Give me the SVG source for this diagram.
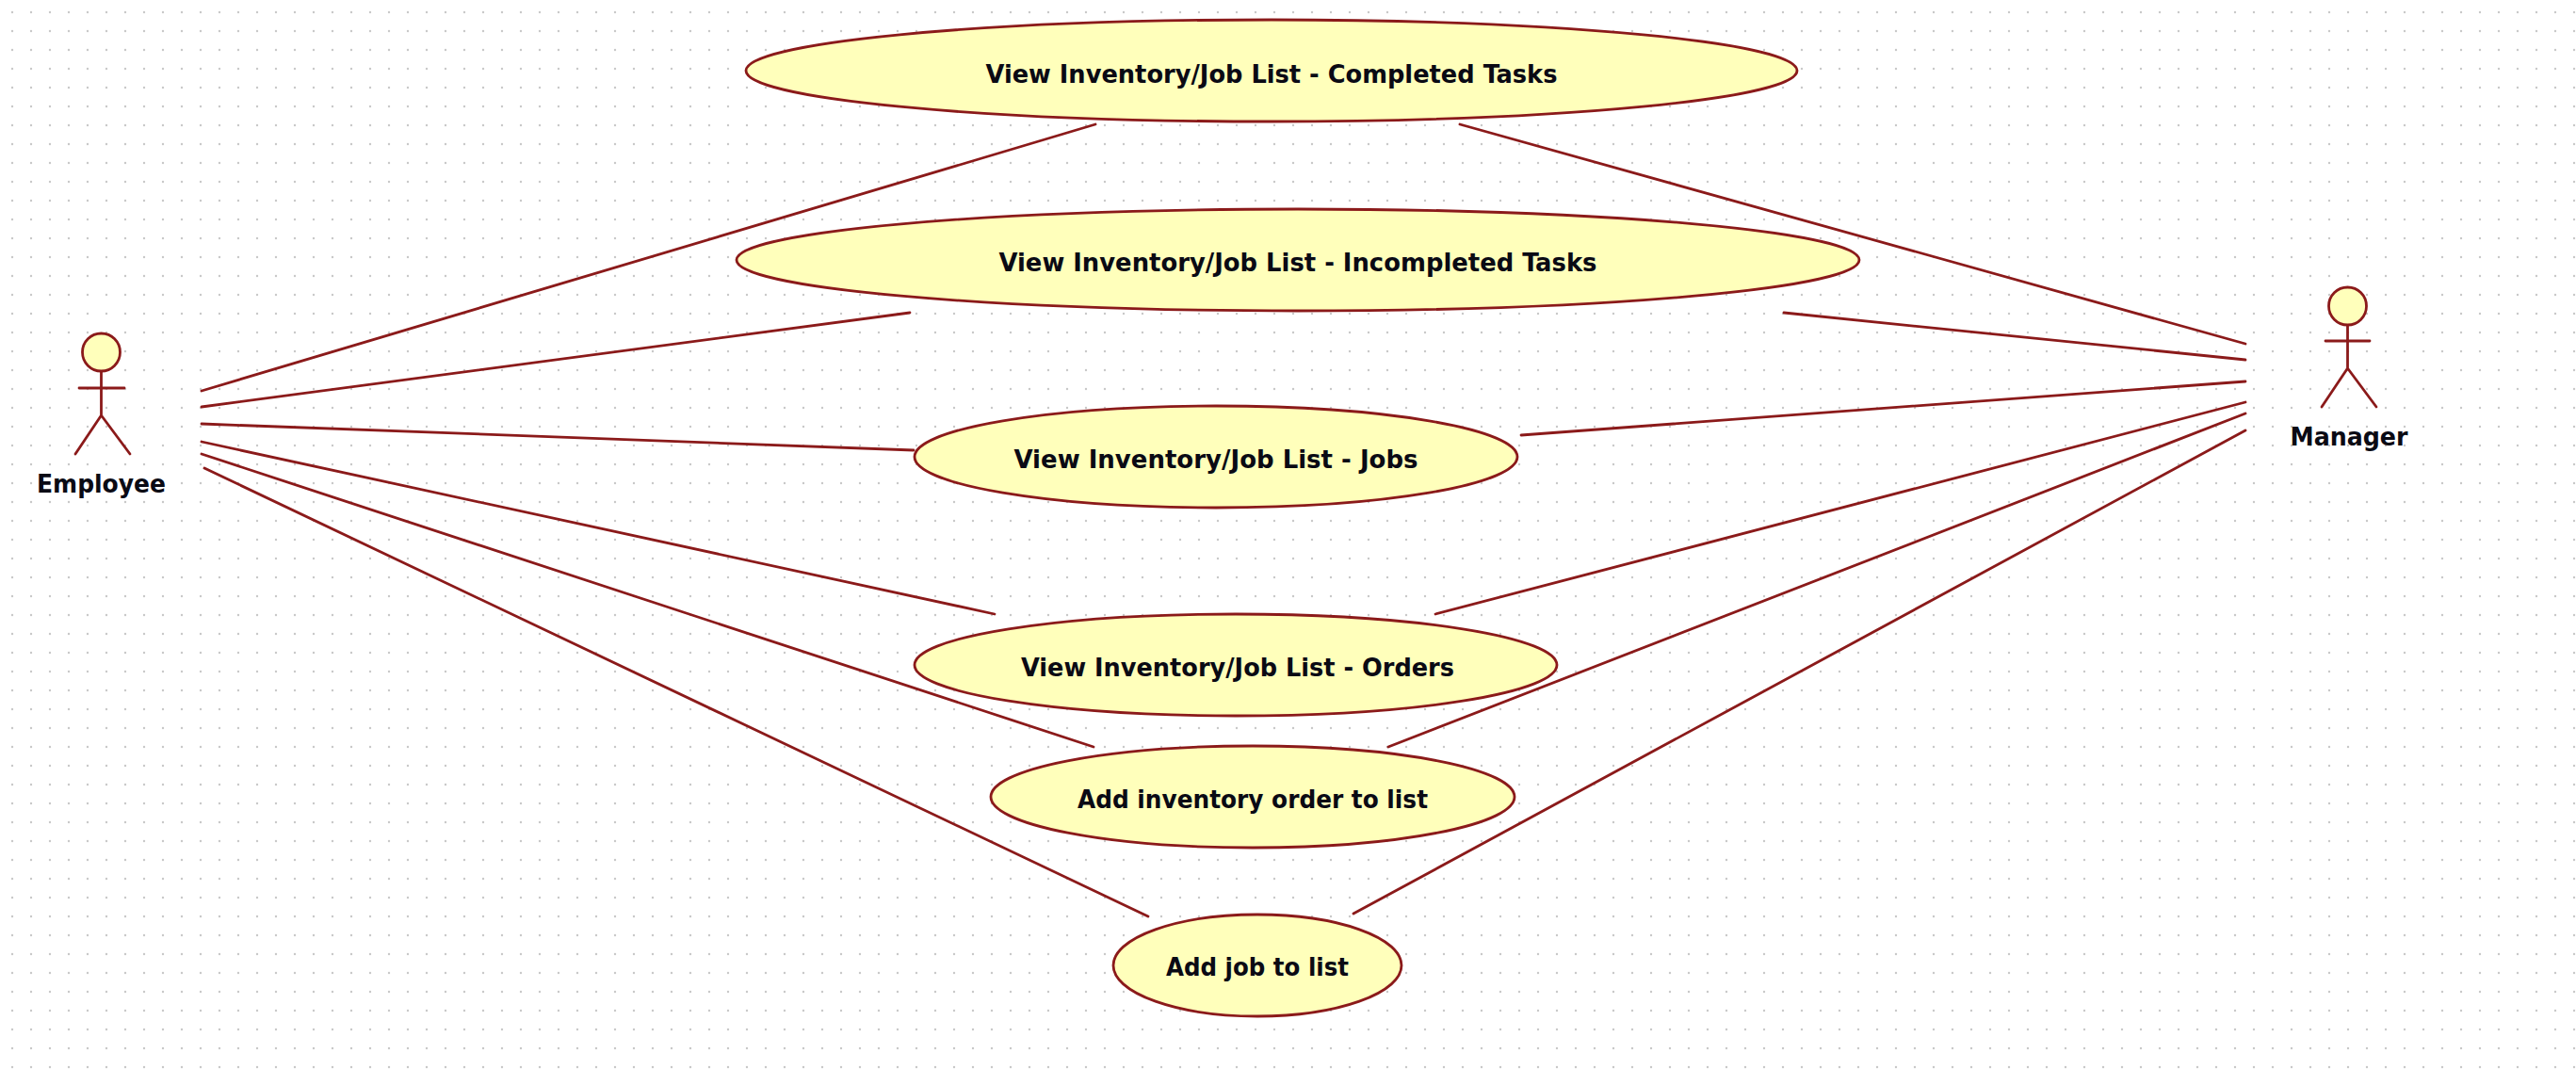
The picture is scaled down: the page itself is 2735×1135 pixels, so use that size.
<svg xmlns="http://www.w3.org/2000/svg" width="2735" height="1135" viewBox="0 0 2735 1135">
<style>
.s{stroke:#8b1a1a;stroke-width:2.8;fill:none;stroke-linecap:round}
.n{fill:#ffffbb;stroke:#8b1a1a;stroke-width:2.8}
text{font-family:"DejaVu Sans Condensed","DejaVu Sans",sans-serif;font-weight:700;font-size:26px;fill:#0a0a14}
</style>
<defs><pattern id="g" width="20" height="20" patternUnits="userSpaceOnUse" x="3" y="3"><circle cx="10" cy="10" r="1.2" fill="#c8c8c8"/></pattern></defs>
<rect width="2735" height="1135" fill="#fff"/>
<rect width="2735" height="1135" fill="url(#g)"/>
<g id="connectors" class="s">
<path d="M214 415L1163 132M214 432L966 332M214 450L970 478M214 469L1056 652M214 482L1161 793M217 497L1219 973"/>
<path d="M1550 132L2384 365M1894 332L2384 382M1615 462L2384 405M1524 652L2384 427M1474 793L2384 439M1437 970L2384 457"/>
</g>
<g id="uc1"><ellipse class="n" cx="1350" cy="75" rx="558" ry="54"/><text x="1350" y="88" text-anchor="middle" textLength="607" lengthAdjust="spacingAndGlyphs">View Inventory/Job List - Completed Tasks</text></g>
<g id="uc2"><ellipse class="n" cx="1378" cy="276" rx="596" ry="54"/><text x="1378" y="288" text-anchor="middle" textLength="635" lengthAdjust="spacingAndGlyphs">View Inventory/Job List - Incompleted Tasks</text></g>
<g id="uc3"><ellipse class="n" cx="1291" cy="485" rx="320" ry="54"/><text x="1291" y="497" text-anchor="middle" textLength="429" lengthAdjust="spacingAndGlyphs">View Inventory/Job List - Jobs</text></g>
<g id="uc4"><ellipse class="n" cx="1312" cy="706" rx="341" ry="54"/><text x="1314" y="718" text-anchor="middle" textLength="460" lengthAdjust="spacingAndGlyphs">View Inventory/Job List - Orders</text></g>
<g id="uc5"><ellipse class="n" cx="1330" cy="846" rx="278" ry="54"/><text x="1330" y="858" text-anchor="middle" textLength="372" lengthAdjust="spacingAndGlyphs">Add inventory order to list</text></g>
<g id="uc6"><ellipse class="n" cx="1335" cy="1025" rx="153" ry="54"/><text x="1335" y="1036" text-anchor="middle" textLength="194" lengthAdjust="spacingAndGlyphs">Add job to list</text></g>
<g id="employee"><path class="s" d="M107.500 395V441M84 412H132M107.500 441L80 482M107.500 441L138 482"/><circle class="n" cx="107.500" cy="374" r="20"/><text x="107.500" y="523" text-anchor="middle" textLength="137" lengthAdjust="spacingAndGlyphs">Employee</text></g>
<g id="manager"><path class="s" d="M2492.500 345V391M2469 362H2516M2492.500 391L2465 432M2492.500 391L2523 432"/><circle class="n" cx="2492.500" cy="325" r="20"/><text x="2494" y="473" text-anchor="middle" textLength="125" lengthAdjust="spacingAndGlyphs">Manager</text></g>
</svg>
